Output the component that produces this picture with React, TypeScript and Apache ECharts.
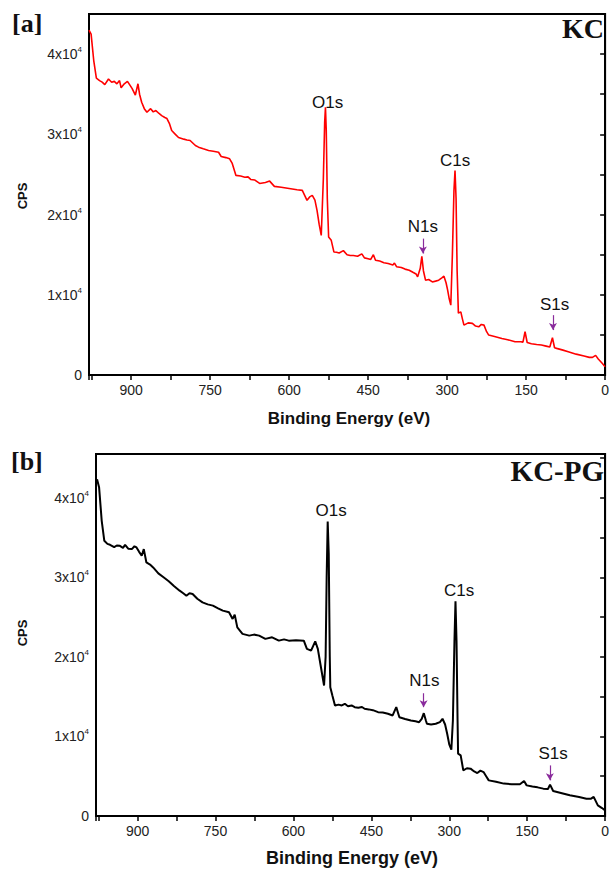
import React, { useEffect, useRef } from "react";
import * as echarts from "echarts";

// ---- KC (panel a) survey spectrum ----
const kcEnergy = [
  980, 976, 971, 966, 960, 955, 950, 943, 937, 932, 927, 922, 919, 913, 907, 902, 898, 892, 887, 884,
  880, 875, 870, 863, 858, 853, 847, 842, 836, 832, 827, 823, 816, 810, 800, 794, 788, 778, 772, 763,
  753, 744, 734, 729, 720, 713, 708, 701, 692, 684, 678, 673, 665, 656, 645, 637, 628, 615, 597, 585,
  575, 566, 561, 556, 551, 547, 543, 539, 535, 532.5, 531, 529.5, 527.5, 525, 520, 515, 510, 505, 497, 490,
  484, 478, 470, 462, 457, 450, 445, 440, 436, 428, 420, 412, 403, 400, 396, 387, 380, 372, 365, 359,
  356, 351, 348, 345, 341, 335, 328, 322, 316, 310, 306, 302, 299, 296, 293, 290, 287, 285, 283, 281,
  278.6, 274, 271, 268, 260, 252, 246, 240, 235, 230, 225, 221, 210, 196, 185, 171, 160, 156, 152, 148,
  140, 130, 121, 112, 105, 100, 96, 92, 80, 70, 55, 40, 30, 24, 18, 13, 6, 0,
];
const kcCounts = [
  43000, 42500, 39200, 37000, 36700, 36500, 36200, 36900, 36500, 36600, 36300, 36700, 35800, 36300, 36600, 36100, 35700, 34900, 36300, 35000,
  34000, 33200, 32750, 33200, 32800, 32960, 32600, 32340, 32100, 31970, 31300, 30470, 30000, 29600, 29400, 29300, 29230, 28610, 28400, 28200,
  27990, 27900, 27770, 27240, 27100, 26950, 26370, 24880, 24800, 24660, 24700, 24380, 24300, 23880, 24000, 24170, 23510, 23400, 23220, 23100,
  23010, 21770, 22200, 22390, 21800, 20520, 18800, 17400, 24500, 31500, 33370, 30500, 22000, 17200, 16790, 15340, 15300, 15200, 15500, 15000,
  14900, 14900, 14800, 15100, 14600, 14500, 14400, 15000, 14300, 14200, 14000, 13900, 13700, 13950, 13500, 13400, 13200, 13060, 12800, 12600,
  12230, 13300, 14800, 13000, 11820, 11900, 11600, 11700, 11820, 12100, 12310, 11500, 10570, 9500, 8710, 15000, 23000, 25500, 22000, 13000,
  7710, 7870, 7000, 6220, 6500, 6430, 6100, 6010, 6300, 6220, 5400, 4980, 4800, 4560, 4400, 4140, 4150, 4100, 5390, 4050,
  3900, 3800, 3730, 3600, 3480, 4640, 3400, 3320, 3100, 2900, 2600, 2360, 2200, 2200, 2450, 1990, 1500, 1030,
];

// ---- KC-PG (panel b) survey spectrum ----
const kcpgEnergy = [
  978, 974, 969, 964, 958, 953, 945, 940, 934, 928, 924, 918, 911, 906, 902, 897, 892, 888, 883, 876,
  870, 860, 850, 840, 830, 819, 812, 806, 800, 794, 785, 775, 765, 755, 745, 736, 724, 717, 713, 708,
  698, 685, 676, 666, 654, 641, 628, 618, 609, 595, 580, 574, 566, 558, 553, 547, 541, 538, 536, 534,
  532, 530, 529, 525, 520, 513, 507, 501, 495, 488, 482, 475, 468, 463, 455, 447, 437, 428, 418, 409,
  402, 396, 385, 374, 365, 358, 353, 349, 345, 343, 335, 326, 318, 313, 308, 304, 300, 296, 293, 290,
  288, 286, 284, 283, 278, 273, 266, 259, 252, 246, 240, 234, 229, 224, 210, 195, 180, 164, 156, 151,
  140, 130, 119, 110, 106, 100, 85, 68, 50, 36, 27, 22, 14, 6, 0,
];
const kcpgCounts = [
  42330, 41280, 37100, 34590, 34200, 34090, 33800, 34000, 33960, 33700, 34090, 33600, 33550, 33900, 33750, 33200, 32710, 33550, 31870, 31600,
  31240, 30500, 30000, 29500, 28900, 28320, 28000, 27690, 28000, 27900, 27300, 26850, 26600, 26440, 26100, 25810, 25600, 24770, 25310, 23710,
  22890, 22670, 22800, 22670, 22260, 22460, 22040, 22200, 22040, 22100, 22040, 21000, 20790, 21960, 21000, 18700, 16400, 20000, 30000, 37000,
  33000, 20000, 16190, 15140, 13890, 14000, 13900, 14100, 13800, 13900, 13680, 13600, 13700, 13480, 13400, 13300, 13050, 13000, 12850, 12640,
  13680, 12420, 12200, 12010, 11900, 11790, 12200, 12920, 12000, 11590, 11500, 11590, 11800, 12220, 11500, 10340, 9000, 8330, 12000, 22000,
  26980, 22000, 12000, 7830, 7620, 5730, 6000, 5950, 5600, 5400, 5700, 5520, 5000, 4480, 4300, 4070, 4000, 3980, 4390, 3850,
  3700, 3600, 3440, 3400, 3940, 3140, 2900, 2600, 2400, 2180, 2180, 2400, 1340, 1000, 710,
];

// ---- peak annotations ----
const kcPeakLabels = ["O1s", "C1s", "N1s", "S1s"];
const kcPeakLabelPos = [[527, 34000], [285, 26740], [346, 18530], [96, 8830]];
const kcArrows = [[346, 17000, 15140], [99, 7460, 5600]];
const kcpgPeakLabels = ["O1s", "C1s", "N1s", "S1s"];
const kcpgPeakLabelPos = [[527.5, 38360], [281, 28320], [348, 16990], [100, 7830]];
const kcpgArrows = [[349.4, 15430, 13680], [106.3, 6360, 4480]];

const xMin = 0;
const xMax = 980;
const xTickStep = 75;
const xLabelStep = 150;
const yMin = 0;
const yTickStep = 5000;
const yLabelStep = 10000;

const SANS = "'Liberation Sans', Arial, sans-serif";
const SERIF = "'Liberation Serif', 'Times New Roman', serif";
const ARROW = "#8a2b9c";

function xAxisCfg(gridIndex: number) {
  return {
    type: "value",
    gridIndex,
    inverse: true,
    min: xMin,
    max: xMax,
    interval: xTickStep,
    splitLine: { show: false },
    axisLine: { lineStyle: { color: "#000", width: 2 } },
    axisTick: { length: 5, lineStyle: { color: "#000", width: 1.5 } },
    axisLabel: {
      color: "#222",
      fontFamily: SANS,
      fontSize: 14,
      margin: 8,
      formatter: (v: number) => (v % xLabelStep === 0 ? String(v) : ""),
    },
  };
}

function yAxisCfg(gridIndex: number, max: number) {
  return {
    type: "value",
    gridIndex,
    min: yMin,
    max,
    interval: yTickStep,
    splitLine: { show: false },
    axisLine: { lineStyle: { color: "#000", width: 2 } },
    axisTick: { length: 5, lineStyle: { color: "#000", width: 1.5 } },
    axisLabel: {
      color: "#222",
      fontFamily: SANS,
      fontSize: 14,
      margin: 7,
      formatter: (v: number) => {
        if (v % yLabelStep !== 0 || v > 40000) return "";
        if (v === 0) return "0";
        return `{n|${v / 10000}x10}{s|4}`;
      },
      rich: {
        n: { fontFamily: SANS, fontSize: 14, color: "#222" },
        s: { fontFamily: SANS, fontSize: 8, color: "#222", verticalAlign: "top", padding: [0, 0, 9, 0] },
      },
    },
  };
}

function annotations(labels: string[], pos: number[][], arrows: number[][]) {
  return {
    markPoint: {
      silent: true,
      symbol: "circle",
      symbolSize: 0,
      data: labels.map((t, i) => ({
        coord: pos[i],
        label: {
          show: true,
          position: "inside",
          formatter: t,
          color: "#111",
          fontFamily: SANS,
          fontSize: 17,
        },
      })),
    },
    markLine: {
      silent: true,
      symbol: ["none", "arrow"],
      symbolSize: [6, 7],
      label: { show: false },
      lineStyle: { color: ARROW, width: 1.2, type: "solid" },
      data: arrows.map((a) => [
        { coord: [a[0], a[1]] },
        { coord: [a[0], a[2]] },
      ]),
    },
  };
}

export default function App() {
  const ref = useRef<HTMLDivElement>(null);
  useEffect(() => {
    if (!ref.current) return;
    const chart = echarts.init(ref.current, undefined, { renderer: "svg" });
    const kcData = kcEnergy.map((e, i) => [e, kcCounts[i]]);
    const kcpgData = kcpgEnergy.map((e, i) => [e, kcpgCounts[i]]);
    chart.setOption({
      animation: false,
      backgroundColor: "#fff",
      grid: [
        { left: 89, top: 14, right: 1, bottom: 494, show: true, borderColor: "#000", borderWidth: 2 },
        { left: 96, top: 454, right: 3, bottom: 53, show: true, borderColor: "#000", borderWidth: 2 },
      ],
      xAxis: [xAxisCfg(0), xAxisCfg(1)],
      yAxis: [yAxisCfg(0, 45000), yAxisCfg(1, 45500)],
      series: [
        {
          type: "line",
          xAxisIndex: 0,
          yAxisIndex: 0,
          data: kcData,
          showSymbol: false,
          lineStyle: { color: "#ff0000", width: 1.6 },
          ...annotations(kcPeakLabels, kcPeakLabelPos, kcArrows),
        },
        {
          type: "line",
          xAxisIndex: 1,
          yAxisIndex: 1,
          data: kcpgData,
          showSymbol: false,
          lineStyle: { color: "#000", width: 2 },
          ...annotations(kcpgPeakLabels, kcpgPeakLabelPos, kcpgArrows),
        },
      ],
      graphic: [
        { type: "text", left: 12, top: 10, style: { text: "[a]", font: `bold 26px ${SERIF}`, fill: "#111" } },
        { type: "text", left: 11, top: 448, style: { text: "[b]", font: `bold 26px ${SERIF}`, fill: "#111" } },
        { type: "text", right: 8, top: 14, style: { text: "KC", font: `bold 28px ${SERIF}`, fill: "#111" } },
        { type: "text", right: 8, top: 456, style: { text: "KC-PG", font: `bold 29px ${SERIF}`, fill: "#111" } },
        {
          type: "text", x: 22, y: 196, rotation: Math.PI / 2,
          style: { text: "CPS", font: `bold 13px ${SANS}`, fill: "#111", align: "center", verticalAlign: "middle" },
        },
        {
          type: "text", x: 22, y: 633, rotation: Math.PI / 2,
          style: { text: "CPS", font: `bold 13px ${SANS}`, fill: "#111", align: "center", verticalAlign: "middle" },
        },
        {
          type: "text", x: 349, y: 418,
          style: { text: "Binding Energy (eV)", font: `bold 17px ${SANS}`, fill: "#111", align: "center", verticalAlign: "middle" },
        },
        {
          type: "text", x: 352, y: 858,
          style: { text: "Binding Energy (eV)", font: `bold 18px ${SANS}`, fill: "#111", align: "center", verticalAlign: "middle" },
        },
      ],
    });
    return () => chart.dispose();
  }, []);
  return (
    <div
      ref={ref}
      style={{ position: "absolute", left: 0, top: 0, width: 612, height: 869 }}
    />
  );
}
